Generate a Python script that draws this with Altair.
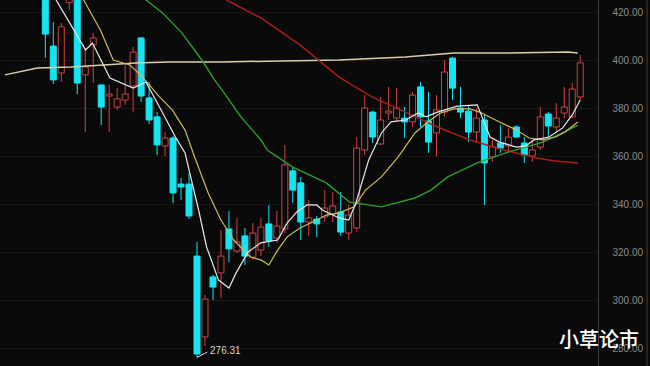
import altair as alt
import pandas as pd

# ---- daily bars, left to right ----
OPEN = [432.0, 406.0, 394.8, 424.1, 434.0, 394.0, 406.5, 389.8, 385.2, 380.6,
        383.5, 389.4, 409.4, 384.4, 376.5, 364.4, 367.7, 348.5, 348.5, 318.5,
        284.8, 309.8, 311.5, 329.8, 320.6, 326.9, 318.1, 321.0, 331.9, 326.0,
        329.8, 354.0, 349.0, 332.7, 333.9, 334.8, 336.0, 336.9, 328.1, 330.2,
        362.7, 378.5, 365.2, 378.1, 376.0, 376.0, 374.4, 389.0, 374.8, 369.8,
        378.5, 401.0, 380.2, 378.9, 370.2, 375.2, 359.8, 365.6, 364.4, 372.3,
        365.6, 360.2, 363.9, 377.7, 372.3, 378.1, 376.5, 384.8]
CLOSE = [411.0, 391.9, 414.0, 430.0, 390.6, 397.3, 409.4, 380.6, 386.0, 384.0,
         386.0, 403.5, 385.2, 375.2, 364.8, 367.7, 344.8, 347.3, 335.2, 277.7,
         300.6, 305.6, 318.5, 321.5, 324.4, 318.5, 328.1, 330.6, 324.8, 331.0,
         356.5, 346.0, 332.7, 334.4, 331.9, 338.5, 339.4, 328.5, 335.6, 363.5,
         380.2, 368.1, 375.2, 378.9, 380.2, 374.4, 385.6, 376.5, 366.0, 379.4,
         395.2, 388.5, 378.5, 370.2, 376.0, 357.3, 364.0, 363.5, 368.1, 368.1,
         360.6, 362.7, 376.5, 372.7, 376.0, 380.6, 388.1, 399.0]
HIGH = [436.0, 416.0, 415.6, 433.0, 436.0, 405.2, 411.5, 389.8, 389.8, 388.5,
        398.1, 405.6, 409.6, 391.0, 378.5, 370.2, 368.5, 351.0, 353.1, 324.4,
        302.3, 310.6, 329.4, 337.3, 334.4, 330.2, 332.3, 334.4, 339.8, 337.3,
        364.8, 355.6, 351.5, 341.9, 335.2, 346.0, 345.2, 345.2, 339.8, 368.1,
        385.6, 379.0, 384.8, 389.0, 388.5, 380.6, 386.9, 391.0, 386.9, 385.6,
        400.2, 401.5, 389.0, 381.5, 380.2, 377.3, 366.9, 373.1, 371.9, 373.0,
        368.1, 366.9, 380.6, 378.5, 382.3, 389.0, 390.6, 402.3]
LOW = [401.0, 390.2, 391.0, 421.0, 386.0, 370.2, 390.6, 373.1, 370.2, 379.4,
       381.5, 378.5, 382.7, 373.5, 360.6, 360.2, 340.6, 341.9, 334.0, 276.31,
       281.0, 300.2, 301.0, 316.0, 319.8, 314.8, 316.9, 318.5, 322.3, 324.0,
       328.1, 340.6, 325.2, 326.9, 326.4, 332.7, 332.7, 326.9, 325.2, 328.5,
       360.6, 365.6, 364.8, 375.2, 374.4, 367.7, 372.3, 372.3, 361.5, 360.0,
       376.5, 383.5, 376.0, 366.0, 365.6, 339.8, 357.7, 361.5, 361.9, 367.7,
       357.3, 357.7, 362.7, 368.1, 370.2, 376.0, 376.0, 383.5]

# ---- moving-average traces (bar position, price) ----
MA5_X = [0, 1.35, 5.05, 5.9, 8.1, 11.0, 12.6, 14.3, 16.3, 17.5, 18.3, 19.2, 20.2,
         21.7, 23.0, 23.9, 25.4, 27.0, 29.1, 30.3, 31.5, 32.8, 34.0, 34.7, 36.8,
         38.0, 38.9, 40.5, 42.1, 43.3, 45.1, 46.7, 47.7, 49.1, 51.6, 54.1, 54.7,
         55.7, 56.9, 59.0, 60.2, 61.2, 63.1, 64.8, 66.0, 67.0]
MA5_Y = [431.0, 425.2, 404.4, 407.3, 392.7, 388.5, 391.0, 380.6, 368.1, 361.5,
         350.2, 337.7, 322.3, 308.5, 305.2, 311.5, 320.2, 324.0, 325.2, 332.3,
         336.9, 339.8, 339.8, 337.7, 334.4, 333.5, 340.6, 358.5, 369.8, 374.4,
         375.2, 378.1, 376.5, 378.5, 381.0, 381.5, 376.5, 368.1, 366.0, 363.9,
         364.4, 366.9, 368.1, 371.9, 377.3, 383.5]

MA10_X = [3.0, 4.8, 6.9, 8.5, 10.6, 12.2, 14.3, 15.9, 17.5, 18.7, 20.4, 22.0,
          23.6, 25.7, 27.0, 28.0, 29.1, 30.3, 31.9, 33.5, 35.2, 36.8, 38.7, 40.1,
          42.1, 44.2, 46.3, 47.9, 49.5, 51.2, 53.2, 54.4, 56.9, 59.0, 60.6, 62.3,
          63.9, 65.1, 66.7]
MA10_Y = [432.0, 425.2, 412.7, 400.2, 398.1, 393.1, 384.8, 379.4, 371.0, 359.8,
          344.8, 333.5, 325.2, 318.1, 316.9, 314.8, 321.0, 326.5, 330.2, 332.7,
          335.6, 336.5, 339.0, 346.0, 351.5, 359.8, 369.8, 374.4, 378.1, 379.8,
          379.8, 378.5, 374.4, 371.0, 367.7, 366.9, 368.1, 370.2, 374.4]

MA30_X = [11.0, 12.6, 14.7, 17.1, 19.6, 21.2, 22.4, 24.5, 27.0, 27.8, 31.0, 35.2,
          38.1, 42.1, 46.3, 48.3, 50.4, 54.1, 56.2, 58.1, 60.2, 62.3, 64.8, 66.7]
MA30_Y = [432.0, 425.2, 419.8, 411.5, 400.2, 391.9, 386.5, 376.5, 366.9, 362.7,
          355.6, 349.0, 341.0, 339.0, 342.7, 346.0, 351.5, 357.3, 359.8, 361.9,
          363.9, 366.0, 369.8, 373.1]

MA60_X = [21.0, 22.7, 27.0, 31.9, 36.8, 40.9, 45.1, 49.1, 53.2, 57.4, 61.5, 63.9, 66.7]
MA60_Y = [430.0, 425.2, 417.7, 406.5, 393.1, 384.8, 378.5, 372.3, 366.9, 362.7,
          359.4, 358.1, 357.3]

MA250_X = [-5.05, -1.0, 3.2, 7.3, 11.3, 15.5, 22.0, 36.8, 45.1, 51.2, 57.4, 65.5, 66.7]
MA250_Y = [394.0, 396.9, 397.3, 398.1, 399.0, 399.4, 399.4, 400.2, 401.5, 403.1,
           403.1, 403.5, 403.1]

Y_TICKS = [280, 300, 320, 340, 360, 380, 400, 420]
WATERMARK = "小草论市"

BG = "#0a0a0a"
UP = "#cc4444"
DOWN = "#16e4f2"

bars = pd.DataFrame({
    "i": list(range(len(OPEN))),
    "open": OPEN, "close": CLOSE, "high": HIGH, "low": LOW,
})
up_bars = bars[bars["close"] >= bars["open"]]
down_bars = bars[bars["close"] < bars["open"]]

lo_i = LOW.index(min(LOW))
low_mark = pd.DataFrame({
    "i": [lo_i], "v": [LOW[lo_i]], "i2": [lo_i + 1.3], "v2": [LOW[lo_i] + 2.2],
    "label": [f"{LOW[lo_i]:.2f}"],
})

xs = alt.Scale(domain=[-5.05, 68.6], nice=False, zero=False)
ys = alt.Scale(domain=[272.7, 425.2], nice=False, zero=False)
X = alt.X("i:Q", scale=xs, axis=None)
yaxis = alt.Axis(orient="right", values=Y_TICKS, format=".2f", title=None,
                 labelColor="#8a8a8a", labelFontSize=10, labelFont="Liberation Sans",
                 labelPadding=14, ticks=False, domain=True, domainColor="#3c3c3c",
                 grid=True, gridColor="#4a3434", gridDash=[1, 3], gridWidth=1)


def Y(field):
    return alt.Y(field, scale=ys, axis=yaxis)


def candles(df, color, fill):
    wick = alt.Chart(df).mark_rule(clip=True, strokeWidth=1, color=color).encode(
        x=X, y=Y("low:Q"), y2="high:Q")
    body = alt.Chart(df).mark_bar(clip=True, size=6, strokeWidth=1,
                                  fill=fill, stroke=color).encode(
        x=X, y=Y("open:Q"), y2="close:Q")
    return [wick, body]


def ma_line(xv, yv, color, width=1.3):
    df = pd.DataFrame({"i": xv, "v": yv, "k": list(range(len(xv)))})
    return alt.Chart(df).mark_line(clip=True, strokeWidth=width, color=color).encode(
        x=X, y=Y("v:Q"), order="k:Q")


layers = []
layers += candles(up_bars, UP, BG)
layers += candles(down_bars, DOWN, DOWN)
layers += [
    ma_line(MA250_X, MA250_Y, "#d8d0ac", 1.5),
    ma_line(MA60_X, MA60_Y, "#a61f1c", 1.5),
    ma_line(MA30_X, MA30_Y, "#2f9c2f", 1.4),
    ma_line(MA10_X, MA10_Y, "#cdbb5c", 1.2),
    ma_line(MA5_X, MA5_Y, "#e8e8e8", 1.2),
]

pointer = alt.Chart(low_mark).mark_rule(color="#e0e0e0", strokeWidth=1).encode(
    x=X, y=Y("v:Q"), x2="i2:Q", y2="v2:Q")

low_text = alt.Chart(low_mark).mark_text(
    align="left", baseline="middle", dx=13, dy=-6, fontSize=10,
    font="Liberation Sans", color="#d6d6d6").encode(x=X, y=Y("v:Q"), text="label:N")

frame_line = alt.Chart(pd.DataFrame({"a": [0]})).mark_rule(
    color="#3c3c3c", strokeWidth=1).encode(
    x=alt.value(647), y=alt.value(0), y2=alt.value(366))

mark_text = alt.Chart(pd.DataFrame({"t": [WATERMARK]})).mark_text(
    align="center", baseline="middle", fontSize=20, font="Noto Sans CJK SC",
    fontWeight=500, color="#ffffff").encode(
    x=alt.value(599), y=alt.value(341), text="t:N")

layers += [pointer, low_text, frame_line, mark_text]

chart = alt.layer(*layers).properties(
    width=598, height=366,
    autosize=alt.AutoSizeParams(type="none"),
    padding={"left": 0, "right": 52, "top": 0, "bottom": 0},
    background=BG,
).configure_view(stroke=None, fill=BG)

chart.save("out.html", embed_options={"renderer": "svg", "actions": False})
